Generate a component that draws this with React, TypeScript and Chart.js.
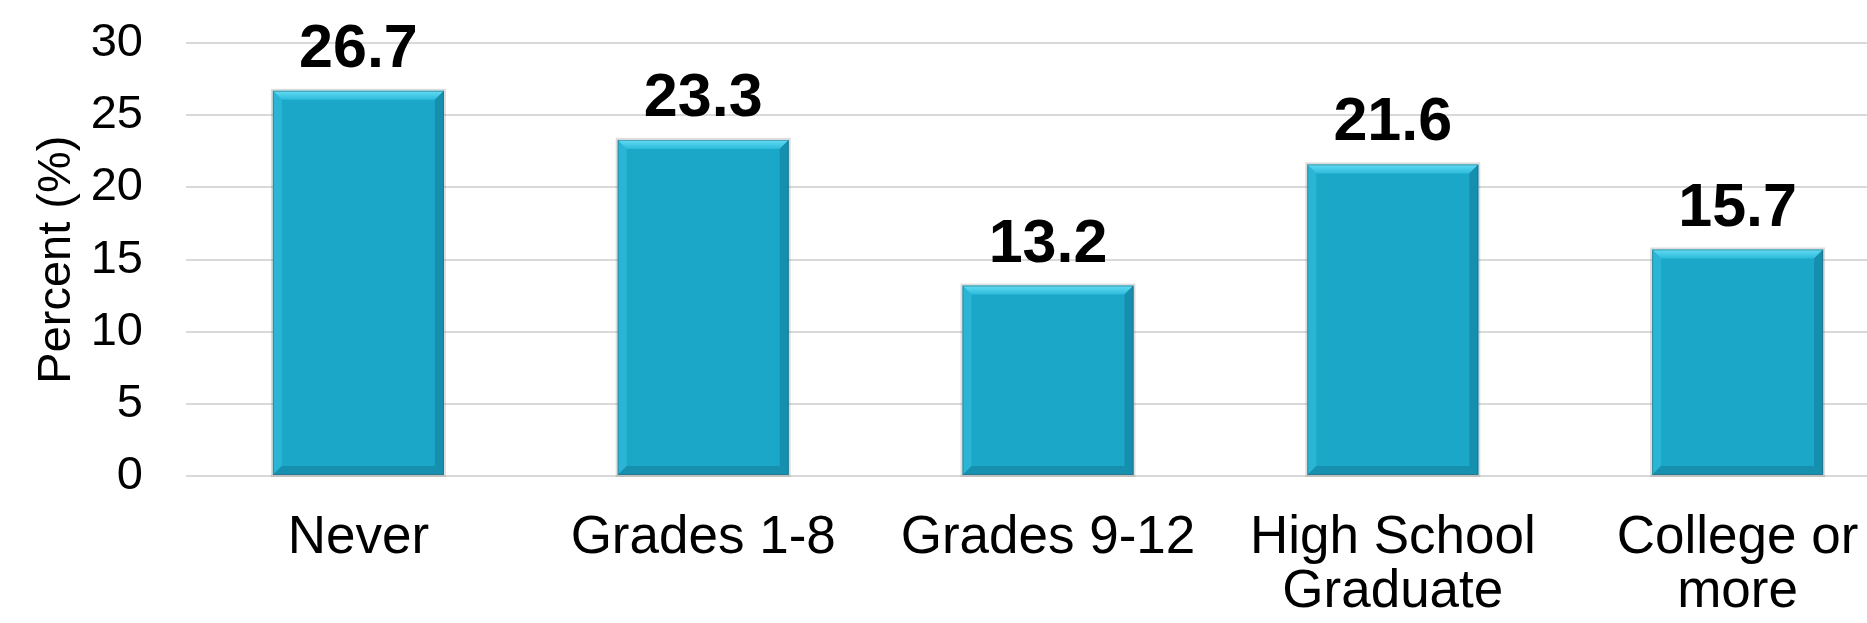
import React, { useEffect, useRef } from "react";
import { Chart, registerables } from "chart.js";

Chart.register(...registerables);

const categories: (string | string[])[] = [
  "Never",
  "Grades 1-8",
  "Grades 9-12",
  ["High School", "Graduate"],
  ["College or", "more"],
];
const percentValues: number[] = [26.7, 23.3, 13.2, 21.6, 15.7];
const yTitle = "Percent (%)";

const FONT = "'Liberation Sans', Arial, Helvetica, sans-serif";
const BAR_COLOR = "#1ba7c8";

const bevelPlugin = {
  id: "bevel",
  afterDatasetsDraw(chart: any) {
    const ctx = chart.ctx;
    const meta = chart.getDatasetMeta(0);
    meta.data.forEach((bar: any) => {
      const p = bar.getProps(["x", "y", "base", "width"], true);
      const l = p.x - p.width / 2;
      const r = p.x + p.width / 2;
      const t = p.y;
      const b = p.base;
      const bv = 9;
      ctx.save();
      ctx.strokeStyle = "rgba(120,120,120,0.25)";
      ctx.lineWidth = 2;
      ctx.strokeRect(l - 1, t - 1, p.width + 2, b - t + 2);
      const gt = ctx.createLinearGradient(0, t, 0, t + bv);
      gt.addColorStop(0, "#63dcf4");
      gt.addColorStop(1, "#2dbbdb");
      ctx.fillStyle = gt;
      ctx.beginPath();
      ctx.moveTo(l, t);
      ctx.lineTo(r, t);
      ctx.lineTo(r - bv, t + bv);
      ctx.lineTo(l + bv, t + bv);
      ctx.closePath();
      ctx.fill();
      ctx.fillStyle = "rgba(60,195,225,0.5)";
      ctx.beginPath();
      ctx.moveTo(l, t);
      ctx.lineTo(l + bv, t + bv);
      ctx.lineTo(l + bv, b - bv);
      ctx.lineTo(l, b);
      ctx.closePath();
      ctx.fill();
      ctx.fillStyle = "#168ead";
      ctx.beginPath();
      ctx.moveTo(r, t);
      ctx.lineTo(r - bv, t + bv);
      ctx.lineTo(r - bv, b - bv);
      ctx.lineTo(r, b);
      ctx.closePath();
      ctx.fill();
      ctx.fillStyle = "#178fae";
      ctx.beginPath();
      ctx.moveTo(l, b);
      ctx.lineTo(l + bv, b - bv);
      ctx.lineTo(r - bv, b - bv);
      ctx.lineTo(r, b);
      ctx.closePath();
      ctx.fill();
      ctx.strokeStyle = "rgba(50,100,115,0.5)";
      ctx.lineWidth = 1;
      ctx.strokeRect(l + 0.5, t + 0.5, p.width - 1, b - t - 1);
      ctx.restore();
    });
  },
};

const valueLabelPlugin = {
  id: "valueLabels",
  afterDatasetsDraw(chart: any) {
    const ctx = chart.ctx;
    const meta = chart.getDatasetMeta(0);
    const data = chart.data.datasets[0].data as number[];
    ctx.save();
    ctx.fillStyle = "#000000";
    ctx.font = `bold 61px ${FONT}`;
    ctx.textAlign = "center";
    ctx.textBaseline = "alphabetic";
    meta.data.forEach((bar: any, i: number) => {
      ctx.fillText(data[i].toFixed(1), bar.x, bar.y - 24);
    });
    ctx.restore();
  },
};

export default function App() {
  const canvasRef = useRef<HTMLCanvasElement | null>(null);

  useEffect(() => {
    if (!canvasRef.current) return;
    const chart = new Chart(canvasRef.current, {
      type: "bar",
      data: {
        labels: categories,
        datasets: [
          {
            data: percentValues,
            backgroundColor: BAR_COLOR,
            borderWidth: 0,
            barPercentage: 0.496,
            categoryPercentage: 1,
          },
        ],
      },
      options: {
        responsive: false,
        animation: false,
        layout: { padding: { top: 0, bottom: 0, left: 0, right: 0 } },
        plugins: {
          legend: { display: false },
          tooltip: { enabled: false },
        },
        scales: {
          x: {
            grid: { display: false, drawTicks: false },
            border: { display: false },
            ticks: {
              color: "#000000",
              font: { family: FONT, size: 53, lineHeight: 1.02 },
              padding: 35.5,
              maxRotation: 0,
              minRotation: 0,
              autoSkip: false,
            },
            afterFit: (scale: any) => {
              scale.height = 147;
            },
          },
          y: {
            min: 0,
            max: 30,
            grid: { color: "#d9d9d9", lineWidth: 2, drawTicks: false },
            border: { display: false },
            ticks: {
              stepSize: 5,
              color: "#000000",
              font: { family: FONT, size: 47, lineHeight: 0.01 },
              padding: 43,
            },
            title: {
              display: true,
              text: yTitle,
              color: "#000000",
              font: { family: FONT, size: 47 },
              padding: { top: 28.5, bottom: 0 },
            },
            afterFit: (scale: any) => {
              scale.width = 186;
            },
          },
        },
      },
      plugins: [bevelPlugin, valueLabelPlugin],
    });
    return () => chart.destroy();
  }, []);

  return (
    <div
      style={{
        position: "absolute",
        left: 0,
        top: 0,
        width: 1867,
        height: 623,
        overflow: "hidden",
        background: "#ffffff",
      }}
    >
      <canvas ref={canvasRef} width={1910} height={623} style={{ display: "block" }} />
    </div>
  );
}
